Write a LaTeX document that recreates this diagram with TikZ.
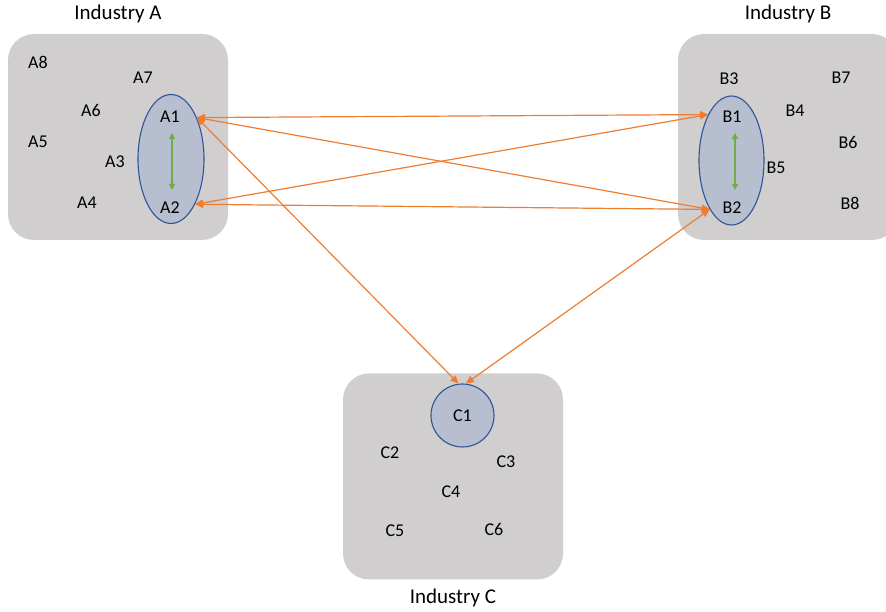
\documentclass[tikz,border=0pt]{standalone}
\usepackage{fontspec}
\setmainfont{Carlito}
\usetikzlibrary{arrows.meta, shapes.geometric}

\definecolor{boxgray}{RGB}{208,206,206}
\definecolor{grpfill}{RGB}{183,190,207}
\definecolor{grpline}{RGB}{47,85,151}
\definecolor{linkorange}{RGB}{237,125,49}
\definecolor{tiegreen}{RGB}{112,173,71}

\begin{document}
\begin{tikzpicture}[
  x=1pt, y=1pt,
  industry/.style = {fill=boxgray, rounded corners=26pt, minimum width=220pt, minimum height=206pt},
  firm/.style = {font=\fontsize{18}{21}\selectfont, inner sep=0pt},
  title/.style = {font=\fontsize{21}{25}\selectfont, inner sep=0pt, anchor=base},
  group/.style = {ellipse, draw=grpline, fill=grpfill, line width=1.1pt, inner sep=0pt},
  link/.style = {draw=linkorange, line width=1.2pt, {Triangle[length=8pt,width=7pt]}-{Triangle[length=8pt,width=7pt]}},
  tie/.style = {draw=tiegreen, line width=1.2pt, {Triangle[length=6pt,width=6pt]}-{Triangle[length=6pt,width=6pt]}}
]
  \clip (0,0) rectangle (886,612);

  % Industry blocks
  \node[industry] (indA) at (118,475) {};
  \node[industry] (indB) at (788,475) {};
  \node[industry] (indC) at (453,135.5) {};

  \node[title] (titleA) at (118,592) {Industry A};
  \node[title] (titleB) at (788,592) {Industry B};
  \node[title] (titleC) at (453,8) {Industry C};

  % Linked groups
  \node[group, minimum width=66pt, minimum height=129pt] (grpA) at (171,453) {};
  \node[group, minimum width=65pt, minimum height=129pt] (grpB) at (731.5,451.5) {};
  \node[group, circle, minimum size=63pt, firm] (C1) at (462.5,196.5) {C1};

  % Industry A firms
  \node[firm] (A1) at (170,495) {A1};
  \node[firm] (A2) at (170,404) {A2};
  \node[firm] (A3) at (115,450) {A3};
  \node[firm] (A4) at (87,409) {A4};
  \node[firm] (A5) at (38,470) {A5};
  \node[firm] (A6) at (91,502) {A6};
  \node[firm] (A7) at (143,534) {A7};
  \node[firm] (A8) at (38,550) {A8};

  % Industry B firms
  \node[firm] (B1) at (732,495) {B1};
  \node[firm] (B2) at (732,404) {B2};
  \node[firm] (B3) at (729,533) {B3};
  \node[firm] (B4) at (795,501) {B4};
  \node[firm] (B5) at (776,444) {B5};
  \node[firm] (B6) at (848,470) {B6};
  \node[firm] (B7) at (841,534) {B7};
  \node[firm] (B8) at (850,409) {B8};

  % Industry C firms
  \node[firm] (C2) at (390,159) {C2};
  \node[firm] (C3) at (506,150) {C3};
  \node[firm] (C4) at (451,120) {C4};
  \node[firm] (C5) at (395,81) {C5};
  \node[firm] (C6) at (494,83) {C6};

  % Ties inside a group
  \draw[tie, shorten <=10pt, shorten >=12pt] ([xshift=2pt]A1.south) -- ([xshift=2pt]A2.north);
  \draw[tie, shorten <=10pt, shorten >=12pt] ([xshift=3pt]B1.south) -- ([xshift=3pt]B2.north);

  % Links between industries
  \draw[link] (grpA.58) -- (grpB.117);
  \draw[link] (grpA.58) -- (grpB.-114);
  \draw[link] (grpA.-62) -- (grpB.117);
  \draw[link] (grpA.-62) -- (grpB.-114);
  \draw[link] (grpA.58) -- (C1.97);
  \draw[link] (grpB.-114) -- (C1.84);

\end{tikzpicture}
\end{document}
